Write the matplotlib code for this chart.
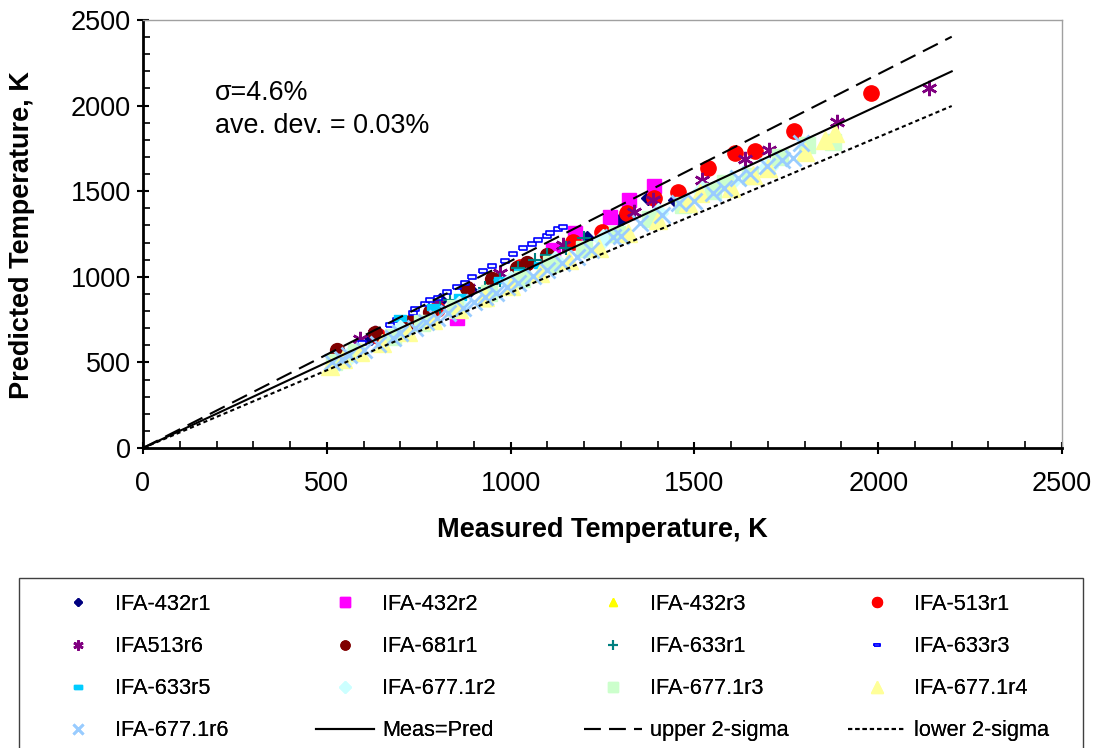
import numpy as np
import matplotlib.pyplot as plt
from matplotlib.patches import Rectangle

plt.rcParams['font.family'] = ['Liberation Sans', 'DejaVu Sans']

# measured / predicted temperatures (K)
ifa432r1_x = [620, 808, 890, 1040, 1208, 1298, 1374, 1447]
ifa432r1_y = [640, 864, 920, 1060, 1226, 1332, 1460, 1449]
ifa432r2_x = [854, 1115, 1175, 1270, 1322, 1390]
ifa432r2_y = [759, 1156, 1256, 1349, 1449, 1530]
ifa432r3_x = [660, 930, 1120]
ifa432r3_y = [640, 864, 1080]
ifa513r1_x = [530, 640, 800, 1025, 1170, 1248, 1316, 1390, 1455, 1537, 1610, 1665, 1771, 1980]
ifa513r1_y = [545, 655, 810, 1057, 1205, 1262, 1373, 1460, 1495, 1636, 1723, 1735, 1852, 2074]
ifa513r6_x = [590, 631, 800, 884, 971, 1143, 1336, 1388, 1520, 1638, 1703, 1888, 2138]
ifa513r6_y = [637, 672, 847, 934, 1022, 1186, 1379, 1449, 1565, 1688, 1740, 1904, 2103]
ifa681r1_x = [528, 631, 726, 781, 881, 950, 1017, 1045, 1100]
ifa681r1_y = [572, 672, 736, 795, 934, 990, 1051, 1080, 1130]
ifa633r1_x = [808, 835, 930, 971, 1020, 1066, 1099, 1150, 1200]
ifa633r1_y = [824, 864, 935, 981, 1051, 1098, 1127, 1170, 1225]
ifa633r3_x = [596, 672, 691, 735, 740, 767, 781, 803, 827, 854, 876, 895, 925, 949,
              985, 1007, 1034, 1058, 1075, 1099, 1107, 1129, 1143]
ifa633r3_y = [613, 718, 748, 788, 812, 841, 864, 876, 911, 940, 964, 999, 1034, 1063,
              1092, 1133, 1168, 1191, 1215, 1238, 1256, 1279, 1291]
ifa633r5_x = [699, 789, 862, 971, 1026, 1080]
ifa633r5_y = [759, 824, 882, 981, 1028, 1070]
ifa6771r2_x = [560, 700, 860, 1000, 1120, 1250, 1400, 1520, 1600, 1700]
ifa6771r2_y = [540, 690, 830, 975, 1090, 1220, 1370, 1500, 1560, 1640]
ifa6771r3_x = [520, 580, 680, 760, 850, 940, 1030, 1110, 1200, 1290, 1380, 1470, 1550,
               1583, 1650, 1733, 1806, 1877]
ifa6771r3_y = [500, 560, 650, 730, 820, 905, 990, 1075, 1160, 1250, 1335, 1420, 1500,
               1548, 1590, 1700, 1770, 1787]
ifa6771r4_x = [510, 545, 590, 650, 720, 790, 860, 930, 1000, 1080, 1160, 1240, 1320, 1400,
               1483, 1515, 1600, 1660, 1700, 1801, 1855, 1883]
ifa6771r4_y = [480, 520, 560, 615, 680, 745, 810, 880, 945, 1020, 1100, 1170, 1255, 1330,
               1431, 1489, 1520, 1595, 1635, 1729, 1799, 1840]
ifa6771r6_x = [515, 540, 560, 600, 640, 680, 700, 740, 770, 800, 830, 870, 900, 930, 960,
               990, 1020, 1060, 1100, 1140, 1180, 1220, 1279, 1300, 1352, 1411, 1458, 1500,
               1551, 1580, 1619, 1650, 1697, 1738, 1768, 1790]
ifa6771r6_y = [505, 520, 545, 575, 610, 645, 670, 700, 735, 760, 790, 820, 850, 880, 905,
               940, 965, 1005, 1040, 1080, 1115, 1155, 1232, 1240, 1314, 1361, 1431, 1440,
               1489, 1520, 1577, 1600, 1647, 1682, 1694, 1782]

line_x = [0, 2200]
sigma = 0.046

W, H = 1096, 748
dash = [(-1, -0.45), (1, -0.45), (1, 0.45), (-1, 0.45), (-1, -0.45)]

fig = plt.figure(figsize=(W / 100, H / 100), dpi=100)
ax = fig.add_axes([143 / W, 1 - 448 / H, 919 / W, 428 / H])

h = {}
h['IFA-432r1'], = ax.plot(ifa432r1_x, ifa432r1_y, 'D', color='#000080', ms=7, ls='none')
h['IFA-432r2'], = ax.plot(ifa432r2_x, ifa432r2_y, 's', color='#ff00ff', ms=10, ls='none')
h['IFA-432r3'], = ax.plot(ifa432r3_x, ifa432r3_y, '^', color='#ffff00', ms=9, ls='none')
h['IFA-513r1'], = ax.plot(ifa513r1_x, ifa513r1_y, 'o', color='#ff0000', ms=11, ls='none')
h['IFA513r6'], = ax.plot(ifa513r6_x, ifa513r6_y, marker=(6, 2, 0), color='#800080', ms=11,
                         mew=1.8, ls='none')
h['IFA-681r1'], = ax.plot(ifa681r1_x, ifa681r1_y, 'o', color='#800000', ms=10, ls='none')
h['IFA-633r1'], = ax.plot(ifa633r1_x, ifa633r1_y, '+', color='#008080', ms=10, mew=1.5, ls='none')
h['IFA-633r3'], = ax.plot(ifa633r3_x, ifa633r3_y, marker=dash, mfc='#eef4ff', mec='#0000ff',
                          ms=6, mew=1.2, ls='none')
h['IFA-633r5'], = ax.plot(ifa633r5_x, ifa633r5_y, marker=dash, color='#00ccff', ms=9, ls='none')
h['IFA-677.1r2'], = ax.plot(ifa6771r2_x, ifa6771r2_y, 'D', color='#ccffff', ms=10, ls='none')
h['IFA-677.1r3'], = ax.plot(ifa6771r3_x, ifa6771r3_y, 's', color='#ccffcc', ms=11, ls='none')
h['IFA-677.1r4'], = ax.plot(ifa6771r4_x, ifa6771r4_y, '^', color='#ffff99', ms=13, ls='none')
h['IFA-677.1r6'], = ax.plot(ifa6771r6_x, ifa6771r6_y, 'x', color='#99ccff', ms=12, mew=2, ls='none')

lx = np.array(line_x)
h['Meas=Pred'], = ax.plot(lx, lx, '-', color='black', lw=1.5)
h['upper 2-sigma'], = ax.plot(lx, lx * (1 + 2 * sigma), color='black', lw=1.5, dashes=(8, 4))
h['lower 2-sigma'], = ax.plot(lx, lx * (1 - 2 * sigma), color='black', lw=1.5, dashes=(2, 1.5))

ax.set_xlim(0, 2500)
ax.set_ylim(0, 2500)
ax.set_xticks(np.arange(0, 2501, 500))
ax.set_yticks(np.arange(0, 2501, 500))
ax.set_xticks(np.arange(0, 2501, 100), minor=True)
ax.set_yticks(np.arange(0, 2501, 100), minor=True)
ax.tick_params(which='major', direction='inout', length=9, width=1.5, labelsize=19.5)
ax.tick_params(axis='x', which='major', pad=12)
ax.tick_params(axis='y', which='major', pad=4)
ax.tick_params(which='minor', direction='in', length=5, width=1.2)
for s in ['left', 'bottom']:
    ax.spines[s].set_linewidth(2)
for s in ['top', 'right']:
    ax.spines[s].set_color('#a0a0a0')
    ax.spines[s].set_linewidth(1)

fig.text(602 / W, 1 - 530 / H, 'Measured Temperature, K', fontsize=19.5, fontweight='bold',
         ha='center', va='center')
fig.text(22 / W, 1 - 235 / H, 'Predicted Temperature, K', fontsize=19.5, fontweight='bold',
         ha='center', va='center', rotation=90)

ax.text(196, 2074, 'σ=4.6%', fontsize=19.4, va='center', ha='left')
ax.text(196, 1881, 'ave. dev. = 0.03%', fontsize=19.4, va='center', ha='left')

# legend: 4 fixed-width columns like the spreadsheet legend, inside one frame
names = [['IFA-432r1', 'IFA513r6', 'IFA-633r5', 'IFA-677.1r6'],
         ['IFA-432r2', 'IFA-681r1', 'IFA-677.1r2', 'Meas=Pred'],
         ['IFA-432r3', 'IFA-633r1', 'IFA-677.1r3', 'upper 2-sigma'],
         ['IFA-513r1', 'IFA-633r3', 'IFA-677.1r4', 'lower 2-sigma']]
col_left = [49, 316, 584, 848]
for cx, col in zip(col_left, names):
    leg = fig.legend([h[n] for n in col], col, loc='upper left',
                     bbox_to_anchor=(cx / W, 1 - 594 / H), borderpad=0, borderaxespad=0,
                     fontsize=15.7, markerscale=0.65, handlelength=2.66,
                     handletextpad=0.37, labelspacing=0.97, frameon=False)
    fig.add_artist(leg)
fig.patches.append(Rectangle((19 / W, -0.05), 1064 / W, 1 - 578 / H + 0.05,
                             transform=fig.transFigure, fill=False,
                             edgecolor='#404040', lw=1))

fig.savefig('out.png', dpi=100)
